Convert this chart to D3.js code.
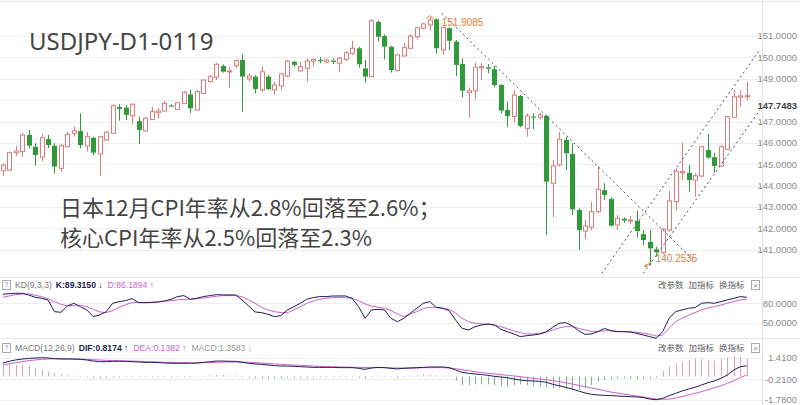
<!DOCTYPE html>
<html><head><meta charset="utf-8">
<script src="https://cdn.jsdelivr.net/npm/d3@7"></script>
<style>body{margin:0;background:#fff;}svg{display:block;}</style>
</head><body>
<svg id="c" width="800" height="405"></svg>
<script>
// ---------- data ----------
const open=[144.70,144.73,145.54,145.59,146.37,145.82,145.33,146.18,145.87,144.81,
145.82,146.45,146.56,145.85,146.24,145.48,146.14,146.45,147.68,147.65,
147.27,147.02,146.57,147.10,147.41,147.49,147.75,147.57,147.85,148.27,
147.54,148.32,148.87,149.07,149.60,149.32,149.61,149.88,149.00,149.10,
148.48,149.10,148.48,148.66,149.13,149.80,149.37,149.49,149.83,149.88,
149.79,149.85,149.73,149.91,150.19,150.43,149.49,149.10,151.67,151.00,
150.50,149.38,150.07,150.43,150.97,151.37,151.52,151.79,150.35,151.37,
150.74,149.69,148.35,148.44,149.51,149.54,149.45,148.71,147.54,147.23,
148.20,146.68,147.23,147.20,147.26,144.11,144.97,146.14,145.48,142.86,
141.87,142.05,142.78,143.79,143.37,142.16,142.45,142.34,142.36,141.73,
141.37,141.02,140.86,141.92,143.25,144.60,144.60,144.26,144.45,145.67,
145.33,144.92,145.70,147.20,148.14,148.16];
const high=[145.04,145.59,145.85,146.45,146.60,145.98,146.40,146.37,145.98,145.95,
146.52,146.76,147.39,146.52,146.29,146.32,146.56,147.81,147.81,147.77,
147.85,147.23,147.23,147.69,147.62,147.96,147.81,147.93,148.43,148.48,
148.48,148.98,149.18,149.75,149.68,149.57,149.91,150.16,149.26,149.18,
149.57,149.18,148.87,149.29,149.88,149.85,149.80,149.96,149.96,150.01,
149.91,149.96,150.01,150.30,150.78,150.50,149.88,151.79,151.75,151.08,
150.55,150.16,150.69,151.08,151.44,151.63,151.9085,151.83,151.44,151.41,
150.82,149.96,148.60,149.75,149.73,149.69,149.60,148.76,147.93,148.48,
148.24,147.39,147.39,147.41,147.31,145.20,146.52,146.29,145.98,142.94,
142.39,143.25,144.92,144.11,143.45,142.62,142.52,142.58,142.82,141.92,
141.92,141.14,142.00,143.76,144.81,146.01,144.97,144.57,145.85,146.42,
145.54,145.90,147.26,148.48,148.44,148.86];
const low=[144.45,144.70,145.39,145.35,145.75,144.93,145.15,145.75,144.58,144.65,
145.79,146.29,145.75,145.59,145.43,144.46,146.10,146.42,147.04,147.07,
146.88,145.95,146.52,147.07,147.15,147.46,147.67,147.54,147.82,147.39,
147.51,148.29,148.82,148.94,149.29,148.56,149.49,147.46,148.87,148.32,
148.40,148.48,148.24,148.48,149.07,149.57,149.33,148.86,149.57,149.73,
149.73,149.69,149.33,149.83,150.12,149.52,148.82,149.07,150.74,149.91,
149.29,149.35,150.04,150.38,150.85,151.32,151.25,150.19,150.12,150.35,
149.13,148.13,147.20,148.04,148.94,149.26,148.60,147.39,146.73,146.95,
146.73,146.29,146.64,147.10,141.69,142.52,144.89,144.73,142.62,140.98,
141.49,141.92,142.70,143.33,142.08,141.92,142.26,142.20,141.56,141.22,
140.2535,140.67,140.80,141.84,142.86,144.26,143.71,143.48,144.39,145.25,
144.60,144.89,145.67,147.15,147.69,148.01];
const close=[144.96,145.54,145.62,146.37,145.87,145.43,146.24,145.90,144.89,145.87,
146.40,146.56,145.90,146.29,145.54,146.29,146.50,147.74,147.59,147.31,
147.81,146.60,147.15,147.46,147.49,147.85,147.70,147.88,148.37,147.62,
148.40,148.94,149.10,149.68,149.33,149.37,149.85,149.10,149.13,148.52,
149.33,148.52,148.71,149.23,149.83,149.65,149.57,149.83,149.91,149.83,
149.88,149.79,149.96,150.22,150.43,149.68,149.10,151.72,150.97,150.50,
149.41,150.12,150.46,151.00,151.39,151.57,151.75,150.43,151.41,150.78,
149.65,148.44,148.44,149.54,149.57,149.47,148.71,147.51,147.26,148.24,
146.79,147.26,147.18,147.31,144.18,144.92,146.17,145.51,142.89,141.92,
142.11,142.78,143.83,143.56,142.12,142.47,142.36,142.39,141.87,141.45,
141.06,140.88,141.95,143.28,144.65,144.65,144.26,144.46,145.82,145.31,
144.92,145.82,147.23,148.16,148.20,148.21];

const kValues=[93.9,94.9,95.4,95.4,92.9,89.3,87.7,85.2,67.1,66.1,
75.9,80.0,74.8,69.7,59.4,62.0,67.1,80.0,82.6,84.1,
87.2,81.0,81.0,81.5,82.0,83.6,86.2,90.3,91.9,86.2,
87.7,90.3,91.9,93.4,92.9,92.9,92.9,85.2,75.9,66.6,
65.6,63.0,59.4,60.9,69.7,74.8,80.0,86.2,88.8,90.3,
90.3,91.3,91.3,91.3,87.7,74.8,56.8,69.7,70.7,69.7,
56.8,51.6,56.8,64.6,72.3,80.0,82.6,73.8,72.3,68.7,
54.2,41.3,38.8,43.9,46.5,48.0,46.5,39.8,36.2,32.6,
28.5,30.0,31.0,32.6,35.7,42.9,49.1,50.1,45.5,37.7,
32.1,32.6,36.2,41.3,37.7,36.2,36.2,35.7,33.6,31.0,
28.5,25.9,36.2,56.8,67.1,69.7,72.3,73.3,80.0,81.0,
80.0,82.6,85.2,87.7,90.3,89.315];
const dValues=[89.3,91.3,93.4,94.4,94.4,92.4,90.3,87.2,82.6,78.5,
75.9,76.9,76.9,74.8,70.7,66.6,65.6,68.7,73.8,77.9,
81.0,81.5,81.0,81.0,82.0,83.1,84.1,85.2,86.2,86.2,
87.2,88.2,89.3,90.8,91.9,91.9,91.9,90.3,85.2,80.0,
73.8,69.7,67.1,65.6,65.6,69.7,74.8,80.0,83.6,86.2,
87.7,88.8,89.3,88.8,87.7,84.1,79.0,75.9,73.8,72.3,
68.7,63.5,59.4,63.5,67.1,71.8,73.8,73.8,72.3,70.7,
64.6,56.8,51.6,49.1,48.0,47.5,46.5,43.9,40.8,37.2,
34.6,32.6,32.6,33.6,35.7,38.8,41.9,43.9,43.9,41.3,
38.8,36.7,36.7,37.7,37.7,36.7,36.2,35.7,35.2,33.6,
32.1,29.5,31.0,41.3,51.6,56.8,61.5,65.6,69.7,72.8,
74.8,77.4,80.0,82.6,85.2,86.1894];

const difValues=[1.03,1.16,1.26,1.33,1.38,1.41,1.43,1.41,1.36,1.33,
1.33,1.33,1.31,1.26,1.18,1.13,1.13,1.16,1.16,1.16,
1.13,1.11,1.08,1.08,1.06,1.03,1.01,1.01,1.01,1.01,
1.03,1.08,1.13,1.18,1.18,1.16,1.16,1.08,1.01,0.96,
0.93,0.88,0.83,0.80,0.80,0.78,0.75,0.73,0.70,0.70,
0.70,0.70,0.68,0.68,0.68,0.63,0.55,0.65,0.70,0.68,
0.63,0.58,0.63,0.65,0.68,0.70,0.73,0.73,0.73,0.68,
0.50,0.32,0.25,0.20,0.15,0.10,0.02,-0.03,-0.08,-0.18,
-0.26,-0.31,-0.33,-0.36,-0.43,-0.58,-0.69,-0.81,-0.94,-1.09,
-1.24,-1.34,-1.39,-1.42,-1.44,-1.47,-1.49,-1.52,-1.54,-1.59,
-1.70,-1.75,-1.65,-1.44,-1.27,-1.09,-0.94,-0.81,-0.64,-0.46,
-0.33,-0.13,0.12,0.50,0.75,0.8174];
const deaValues=[0.88,0.98,1.06,1.13,1.21,1.26,1.31,1.33,1.36,1.36,
1.36,1.33,1.33,1.31,1.28,1.26,1.23,1.21,1.21,1.18,
1.18,1.16,1.13,1.13,1.11,1.08,1.08,1.06,1.06,1.03,
1.03,1.06,1.06,1.08,1.11,1.11,1.11,1.11,1.08,1.06,
1.03,0.98,0.96,0.93,0.90,0.88,0.85,0.83,0.80,0.78,
0.75,0.75,0.73,0.73,0.70,0.70,0.68,0.68,0.68,0.68,
0.65,0.65,0.65,0.65,0.65,0.68,0.68,0.68,0.68,0.65,
0.60,0.53,0.45,0.37,0.30,0.25,0.20,0.15,0.10,0.05,
0.00,-0.08,-0.13,-0.18,-0.23,-0.31,-0.38,-0.46,-0.56,-0.66,
-0.76,-0.86,-0.96,-1.06,-1.17,-1.24,-1.32,-1.39,-1.47,-1.54,
-1.62,-1.70,-1.72,-1.70,-1.62,-1.52,-1.39,-1.27,-1.14,-0.99,
-0.84,-0.69,-0.51,-0.31,-0.08,0.1382];
const macdValues=[0.93,0.93,0.88,0.93,0.83,0.63,0.55,0.37,0.25,0.17,
0.12,0.07,0.05,-0.05,-0.10,-0.13,-0.10,-0.08,-0.08,-0.05,
-0.05,-0.05,-0.05,-0.05,-0.05,-0.05,-0.07,-0.05,-0.05,-0.04,
0.04,0.05,0.10,0.12,0.12,0.08,0.08,-0.05,-0.10,-0.12,
-0.15,-0.15,-0.13,-0.13,-0.10,-0.10,-0.08,-0.08,-0.08,-0.06,
-0.05,-0.05,-0.05,-0.05,-0.04,-0.10,-0.15,-0.06,0.04,0.03,
-0.04,-0.10,-0.05,0.05,0.10,0.17,0.15,0.10,0.08,0.05,
-0.30,-0.64,-0.64,-0.58,-0.58,-0.58,-0.64,-0.69,-0.76,-0.64,
-0.58,-0.64,-0.69,-0.76,-0.81,-0.89,-0.84,-0.94,-1.01,-1.01,
-0.89,-0.64,-0.38,-0.26,-0.21,-0.13,-0.13,-0.18,-0.21,-0.18,
-0.13,-0.08,0.42,0.75,1.01,1.13,1.26,1.38,1.33,1.26,
1.18,1.33,1.43,1.56,1.51,1.3583];

const priceTicks=[141,142,143,144,145,146,147,148,149,150,151];
const kdTicks=[80,50];
const macdTicks=[1.41,-0.21,-1.78];
const lastPrice=147.7483, lastPriceLabel="147.7483";
const highMark=151.9085, highLabel="151.9085", highIndex=66;
const lowMark=140.2535, lowLabel="140.2535", lowIndex=100;
// trend lines as [candle index, price] pairs
const trendDown=[[67.85,152.07],[107.0,140.44]];
const channelUp=[[92.58,139.89],[117.05,150.38]];
const channelLow=[[99.01,139.89],[117.05,147.54]];
const titleText="USDJPY-D1-0119";
const noteLines=["日本12月CPI年率从2.8%回落至2.6%；","核心CPI年率从2.5%回落至2.3%"];
const kdHeader={name:"KD(9,3,3)",k:"K:89.3150",d:"D:86.1894"};
const macdHeader={name:"MACD(12,26,9)",dif:"DIF:0.8174",dea:"DEA:0.1382",macd:"MACD:1.3583"};
const toolLabels=["改参数","加指标","换指标"];

// ---------- drawing ----------
const svg=d3.select('#c');
const n=close.length;
const plotRight=762;
const mainTop=0, mainBottom=277, kdTop=277, kdBottom=338, macdTop=338, macdBottom=405;
const x=d3.scaleLinear().domain([0,n-1]).range([2.7,2.7+6.47*(n-1)]);
const y=d3.scaleLinear().domain([139.72,152.69]).range([mainBottom,mainTop]);
const yK=d3.scaleLinear().domain([26.4,120.6]).range([kdBottom,kdTop]);
const yM=d3.scaleLinear().domain([-1.78,1.41]).range([400.1,358]);

const UP="#dc7b7b", DOWN="#2f9a3a", GRID="#eeeeee", AX="#8a8a8a";
const NAVY="#1e1f52", MAG="#cf5fcf";
const axFont='Liberation Sans, Arial, sans-serif';

svg.append('rect').attr('width',800).attr('height',405).attr('fill','#fff');
const defs=svg.append('defs');
defs.append('clipPath').attr('id','mainClip').append('rect').attr('x',0).attr('y',mainTop).attr('width',plotRight).attr('height',mainBottom-mainTop);

// grids
priceTicks.forEach(t=>{
  svg.append('line').attr('x1',0).attr('x2',plotRight).attr('y1',Math.round(y(t))+0.5).attr('y2',Math.round(y(t))+0.5).attr('stroke',GRID);
});
kdTicks.forEach(t=>{
  svg.append('line').attr('x1',0).attr('x2',plotRight).attr('y1',Math.round(yK(t))+0.5).attr('y2',Math.round(yK(t))+0.5).attr('stroke',GRID);
});
macdTicks.forEach(t=>{
  svg.append('line').attr('x1',0).attr('x2',plotRight).attr('y1',Math.round(yM(t))+0.5).attr('y2',Math.round(yM(t))+0.5).attr('stroke',GRID);
});
[1.5,kdTop+0.5,macdTop+0.5].forEach(v=>{
  svg.append('line').attr('x1',0).attr('x2',800).attr('y1',v).attr('y2',v).attr('stroke','#e6e6e6');
});
svg.append('line').attr('x1',plotRight+0.5).attr('x2',plotRight+0.5).attr('y1',0).attr('y2',405).attr('stroke','#e2e2e2');

// title & notes
svg.append('text').text(titleText).attr('x',29).attr('y',50).attr('font-family','Noto Sans, Open Sans, sans-serif').attr('font-size',24).attr('fill','#454545');
noteLines.forEach((s,i)=>{
  svg.append('text').text(s).attr('x',60).attr('y',216+i*30).attr('font-family','Noto Sans CJK SC, sans-serif').attr('font-size',22).attr('fill','#454545');
});

// candles
const gC=svg.append('g').attr('clip-path','url(#mainClip)');
d3.range(n).forEach(i=>{
  const up=close[i]>=open[i];
  const col=up?UP:DOWN;
  const cx=Math.round(x(i))+0.5;
  const top=y(Math.max(open[i],close[i])), bot=y(Math.min(open[i],close[i]));
  gC.append('line').attr('x1',cx).attr('x2',cx).attr('y1',y(high[i])).attr('y2',top).attr('stroke',col);
  gC.append('line').attr('x1',cx).attr('x2',cx).attr('y1',bot).attr('y2',y(low[i])).attr('stroke',col);
  const h=Math.max(bot-top,1);
  if(up){
    gC.append('rect').attr('x',cx-2).attr('y',top).attr('width',4).attr('height',h).attr('fill','#fff').attr('stroke',col);
  } else {
    gC.append('rect').attr('x',cx-2.5).attr('y',top).attr('width',5).attr('height',h).attr('fill',col);
  }
});

// trend lines
const tl=d3.line().x(d=>x(d[0])).y(d=>y(d[1]));
[trendDown,channelUp,channelLow].forEach(p=>{
  gC.append('path').attr('d',tl(p)).attr('fill','none').attr('stroke','#4a4f7a').attr('stroke-width',1).attr('stroke-dasharray','2,3');
});

// high / low marks
const ORG="#e0823a";
const hx=x(highIndex), hy=y(highMark);
svg.append('path').attr('d',`M${hx-4},${hy+2}L${hx},${hy-1}L${hx+4},${hy+2}`).attr('fill','none').attr('stroke',ORG);
svg.append('text').text(highLabel).attr('x',hx+12).attr('y',hy+9).attr('font-family',axFont).attr('font-size',10).attr('fill',ORG);
const lx=x(lowIndex), ly=y(lowMark);
svg.append('path').attr('d',`M${lx-3},${ly-2}L${lx-5},${ly+1}L${lx-2},${ly+1}M${lx-5},${ly+1}L${lx+2},${ly-4}`).attr('fill','none').attr('stroke',ORG);
svg.append('text').text(lowLabel).attr('x',lx+6).attr('y',ly-4).attr('font-family',axFont).attr('font-size',10).attr('fill',ORG);

// right axis labels
priceTicks.filter(t=>Math.abs(y(t)-y(lastPrice))>10).forEach(t=>{
  svg.append('text').text(t.toFixed(4)).attr('x',797).attr('y',y(t)).attr('dy','0.35em').attr('text-anchor','end').attr('font-family',axFont).attr('font-size',9.5).attr('fill',AX);
});
svg.append('text').text(lastPriceLabel).attr('x',797).attr('y',y(lastPrice)).attr('dy','0.35em').attr('text-anchor','end').attr('font-family',axFont).attr('font-size',9.5).attr('font-weight','bold').attr('fill','#444');
kdTicks.forEach(t=>{
  svg.append('text').text(t.toFixed(4)).attr('x',797).attr('y',yK(t)).attr('dy','0.35em').attr('text-anchor','end').attr('font-family',axFont).attr('font-size',9.5).attr('fill',AX);
});
macdTicks.forEach(t=>{
  svg.append('text').text(t.toFixed(4)).attr('x',797).attr('y',yM(t)).attr('dy','0.35em').attr('text-anchor','end').attr('font-family',axFont).attr('font-size',9.5).attr('fill',AX);
});

// KD lines
const lk=d3.line().x((d,i)=>x(i)).y(d=>yK(d));
svg.append('path').attr('d',lk(dValues)).attr('fill','none').attr('stroke',MAG).attr('stroke-width',1);
svg.append('path').attr('d',lk(kValues)).attr('fill','none').attr('stroke',NAVY).attr('stroke-width',1);

// MACD
macdValues.forEach((v,i)=>{
  const cx=Math.round(x(i))+0.5;
  svg.append('line').attr('x1',cx).attr('x2',cx).attr('y1',yM(0)).attr('y2',yM(v)).attr('stroke',v>=0?'#e4a3ab':'#7fb27f');
});
const lm=d3.line().x((d,i)=>x(i)).y(d=>yM(d));
svg.append('path').attr('d',lm(deaValues)).attr('fill','none').attr('stroke',MAG).attr('stroke-width',1);
svg.append('path').attr('d',lm(difValues)).attr('fill','none').attr('stroke',NAVY).attr('stroke-width',1);

// headers
function qbox(yc){
  svg.append('rect').attr('x',2.5).attr('y',yc-4.5).attr('width',8).attr('height',9).attr('fill','#fff').attr('stroke','#aaa');
  svg.append('text').text('?').attr('x',6.5).attr('y',yc).attr('dy','0.35em').attr('text-anchor','middle').attr('font-family',axFont).attr('font-size',7).attr('fill','#888');
}
function header(yc,parts){
  qbox(yc);
  const t=svg.append('text').attr('x',15).attr('y',yc).attr('dy','0.35em').attr('font-family',axFont).attr('font-size',8.6);
  parts.forEach(p=>t.append('tspan').text(p[0]).attr('fill',p[1]).attr('dx',p[2]||0).attr('font-weight',p[3]||'normal'));
}
header(285,[[kdHeader.name,'#777'],[kdHeader.k,NAVY,4,'bold'],[' ↓',NAVY],[kdHeader.d,MAG,5],[' ↑',MAG]]);
header(348,[[macdHeader.name,'#777'],[macdHeader.dif,NAVY,4,'bold'],[' ↑',NAVY],[macdHeader.dea,MAG,5],[' ↑',MAG],[macdHeader.macd,'#999',5],[' ↓','#999']]);
function tools(yc){
  toolLabels.forEach((s,i)=>{
    svg.append('text').text(s).attr('x',658+i*30.5).attr('y',yc).attr('dy','0.35em').attr('font-family','Noto Sans CJK SC, sans-serif').attr('font-size',8.5).attr('fill','#666');
  });
  svg.append('rect').attr('x',751.5).attr('y',yc-4.5).attr('width',8).attr('height',9).attr('fill','#fff').attr('stroke','#aaa');
  svg.append('text').text('×').attr('x',755.5).attr('y',yc).attr('dy','0.35em').attr('text-anchor','middle').attr('font-family',axFont).attr('font-size',8).attr('fill','#888');
}
tools(285); tools(348);
</script>
</body></html>
